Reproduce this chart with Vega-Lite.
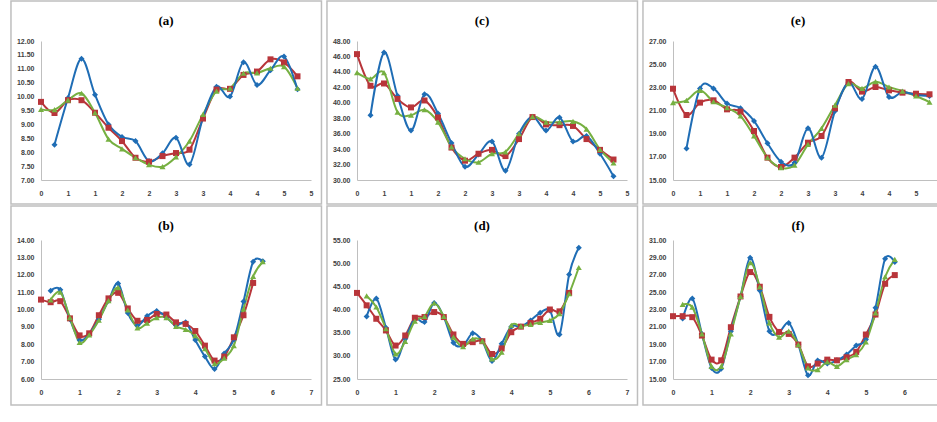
{
  "$schema": "https://vega.github.io/schema/vega-lite/v6.json",
  "background": "white",
  "padding": {"left": 10, "top": 0, "right": 0, "bottom": 0},
  "datasets": {
    "frame": [{"frame": "box"}],
    "d": [
      {"panel":"a","x":0,"DECLUSTERED DATA":null,"KMAF BLOCK MODEL":9.81,"COKRIGING BLOCK MODEL":9.54},
      {"panel":"a","x":0.25,"DECLUSTERED DATA":8.27,"KMAF BLOCK MODEL":9.41,"COKRIGING BLOCK MODEL":9.53},
      {"panel":"a","x":0.5,"DECLUSTERED DATA":9.95,"KMAF BLOCK MODEL":9.87,"COKRIGING BLOCK MODEL":9.87},
      {"panel":"a","x":0.75,"DECLUSTERED DATA":11.36,"KMAF BLOCK MODEL":9.87,"COKRIGING BLOCK MODEL":10.12},
      {"panel":"a","x":1,"DECLUSTERED DATA":10.07,"KMAF BLOCK MODEL":9.42,"COKRIGING BLOCK MODEL":9.42},
      {"panel":"a","x":1.25,"DECLUSTERED DATA":9.0,"KMAF BLOCK MODEL":8.88,"COKRIGING BLOCK MODEL":8.47},
      {"panel":"a","x":1.5,"DECLUSTERED DATA":8.55,"KMAF BLOCK MODEL":8.40,"COKRIGING BLOCK MODEL":8.12},
      {"panel":"a","x":1.75,"DECLUSTERED DATA":8.40,"KMAF BLOCK MODEL":7.80,"COKRIGING BLOCK MODEL":7.80},
      {"panel":"a","x":2,"DECLUSTERED DATA":7.68,"KMAF BLOCK MODEL":7.66,"COKRIGING BLOCK MODEL":7.55},
      {"panel":"a","x":2.25,"DECLUSTERED DATA":7.96,"KMAF BLOCK MODEL":7.86,"COKRIGING BLOCK MODEL":7.48},
      {"panel":"a","x":2.5,"DECLUSTERED DATA":8.52,"KMAF BLOCK MODEL":7.97,"COKRIGING BLOCK MODEL":7.83},
      {"panel":"a","x":2.75,"DECLUSTERED DATA":7.56,"KMAF BLOCK MODEL":8.09,"COKRIGING BLOCK MODEL":8.40},
      {"panel":"a","x":3,"DECLUSTERED DATA":9.24,"KMAF BLOCK MODEL":9.21,"COKRIGING BLOCK MODEL":9.36},
      {"panel":"a","x":3.25,"DECLUSTERED DATA":10.35,"KMAF BLOCK MODEL":10.25,"COKRIGING BLOCK MODEL":10.20},
      {"panel":"a","x":3.5,"DECLUSTERED DATA":10.0,"KMAF BLOCK MODEL":10.28,"COKRIGING BLOCK MODEL":10.30},
      {"panel":"a","x":3.75,"DECLUSTERED DATA":11.24,"KMAF BLOCK MODEL":10.78,"COKRIGING BLOCK MODEL":10.84},
      {"panel":"a","x":4,"DECLUSTERED DATA":10.42,"KMAF BLOCK MODEL":10.90,"COKRIGING BLOCK MODEL":10.85},
      {"panel":"a","x":4.25,"DECLUSTERED DATA":10.95,"KMAF BLOCK MODEL":11.34,"COKRIGING BLOCK MODEL":11.02},
      {"panel":"a","x":4.5,"DECLUSTERED DATA":11.44,"KMAF BLOCK MODEL":11.23,"COKRIGING BLOCK MODEL":11.08},
      {"panel":"a","x":4.75,"DECLUSTERED DATA":10.26,"KMAF BLOCK MODEL":10.73,"COKRIGING BLOCK MODEL":10.30},

      {"panel":"c","x":0,"DECLUSTERED DATA":null,"KMAF BLOCK MODEL":46.3,"COKRIGING BLOCK MODEL":43.9},
      {"panel":"c","x":0.25,"DECLUSTERED DATA":38.4,"KMAF BLOCK MODEL":42.2,"COKRIGING BLOCK MODEL":43.1},
      {"panel":"c","x":0.5,"DECLUSTERED DATA":46.5,"KMAF BLOCK MODEL":42.5,"COKRIGING BLOCK MODEL":43.9},
      {"panel":"c","x":0.75,"DECLUSTERED DATA":40.9,"KMAF BLOCK MODEL":40.5,"COKRIGING BLOCK MODEL":38.8},
      {"panel":"c","x":1,"DECLUSTERED DATA":36.4,"KMAF BLOCK MODEL":39.4,"COKRIGING BLOCK MODEL":38.4},
      {"panel":"c","x":1.25,"DECLUSTERED DATA":41.1,"KMAF BLOCK MODEL":40.3,"COKRIGING BLOCK MODEL":39.1},
      {"panel":"c","x":1.5,"DECLUSTERED DATA":38.6,"KMAF BLOCK MODEL":38.1,"COKRIGING BLOCK MODEL":37.5},
      {"panel":"c","x":1.75,"DECLUSTERED DATA":34.8,"KMAF BLOCK MODEL":34.2,"COKRIGING BLOCK MODEL":34.3},
      {"panel":"c","x":2,"DECLUSTERED DATA":31.7,"KMAF BLOCK MODEL":32.5,"COKRIGING BLOCK MODEL":32.75},
      {"panel":"c","x":2.25,"DECLUSTERED DATA":33.3,"KMAF BLOCK MODEL":33.4,"COKRIGING BLOCK MODEL":32.3},
      {"panel":"c","x":2.5,"DECLUSTERED DATA":35.0,"KMAF BLOCK MODEL":33.9,"COKRIGING BLOCK MODEL":33.4},
      {"panel":"c","x":2.75,"DECLUSTERED DATA":31.2,"KMAF BLOCK MODEL":33.1,"COKRIGING BLOCK MODEL":33.65},
      {"panel":"c","x":3,"DECLUSTERED DATA":36.0,"KMAF BLOCK MODEL":35.3,"COKRIGING BLOCK MODEL":36.0},
      {"panel":"c","x":3.25,"DECLUSTERED DATA":38.2,"KMAF BLOCK MODEL":38.15,"COKRIGING BLOCK MODEL":38.2},
      {"panel":"c","x":3.5,"DECLUSTERED DATA":36.4,"KMAF BLOCK MODEL":37.2,"COKRIGING BLOCK MODEL":37.5},
      {"panel":"c","x":3.75,"DECLUSTERED DATA":38.1,"KMAF BLOCK MODEL":37.1,"COKRIGING BLOCK MODEL":37.5},
      {"panel":"c","x":4,"DECLUSTERED DATA":35.0,"KMAF BLOCK MODEL":37.0,"COKRIGING BLOCK MODEL":37.6},
      {"panel":"c","x":4.25,"DECLUSTERED DATA":35.7,"KMAF BLOCK MODEL":35.3,"COKRIGING BLOCK MODEL":36.6},
      {"panel":"c","x":4.5,"DECLUSTERED DATA":33.4,"KMAF BLOCK MODEL":33.9,"COKRIGING BLOCK MODEL":33.95},
      {"panel":"c","x":4.75,"DECLUSTERED DATA":30.5,"KMAF BLOCK MODEL":32.65,"COKRIGING BLOCK MODEL":32.2},

      {"panel":"e","x":0,"DECLUSTERED DATA":null,"KMAF BLOCK MODEL":22.88,"COKRIGING BLOCK MODEL":21.68},
      {"panel":"e","x":0.25,"DECLUSTERED DATA":17.73,"KMAF BLOCK MODEL":20.61,"COKRIGING BLOCK MODEL":21.88},
      {"panel":"e","x":0.5,"DECLUSTERED DATA":22.9,"KMAF BLOCK MODEL":21.68,"COKRIGING BLOCK MODEL":22.74},
      {"panel":"e","x":0.75,"DECLUSTERED DATA":22.9,"KMAF BLOCK MODEL":21.88,"COKRIGING BLOCK MODEL":21.76},
      {"panel":"e","x":1,"DECLUSTERED DATA":21.6,"KMAF BLOCK MODEL":21.1,"COKRIGING BLOCK MODEL":21.24},
      {"panel":"e","x":1.25,"DECLUSTERED DATA":21.2,"KMAF BLOCK MODEL":20.9,"COKRIGING BLOCK MODEL":20.53},
      {"panel":"e","x":1.5,"DECLUSTERED DATA":20.1,"KMAF BLOCK MODEL":19.23,"COKRIGING BLOCK MODEL":18.8},
      {"panel":"e","x":1.75,"DECLUSTERED DATA":18.17,"KMAF BLOCK MODEL":16.93,"COKRIGING BLOCK MODEL":16.93},
      {"panel":"e","x":2,"DECLUSTERED DATA":16.58,"KMAF BLOCK MODEL":16.12,"COKRIGING BLOCK MODEL":16.06},
      {"panel":"e","x":2.25,"DECLUSTERED DATA":16.5,"KMAF BLOCK MODEL":16.93,"COKRIGING BLOCK MODEL":16.29},
      {"panel":"e","x":2.5,"DECLUSTERED DATA":19.46,"KMAF BLOCK MODEL":18.22,"COKRIGING BLOCK MODEL":18.08},
      {"panel":"e","x":2.75,"DECLUSTERED DATA":16.93,"KMAF BLOCK MODEL":18.8,"COKRIGING BLOCK MODEL":19.46},
      {"panel":"e","x":3,"DECLUSTERED DATA":20.96,"KMAF BLOCK MODEL":21.19,"COKRIGING BLOCK MODEL":21.47},
      {"panel":"e","x":3.25,"DECLUSTERED DATA":23.4,"KMAF BLOCK MODEL":23.46,"COKRIGING BLOCK MODEL":23.32},
      {"panel":"e","x":3.5,"DECLUSTERED DATA":22.0,"KMAF BLOCK MODEL":22.63,"COKRIGING BLOCK MODEL":22.91},
      {"panel":"e","x":3.75,"DECLUSTERED DATA":24.78,"KMAF BLOCK MODEL":23.03,"COKRIGING BLOCK MODEL":23.49},
      {"panel":"e","x":4,"DECLUSTERED DATA":22.17,"KMAF BLOCK MODEL":22.74,"COKRIGING BLOCK MODEL":23.03},
      {"panel":"e","x":4.25,"DECLUSTERED DATA":22.6,"KMAF BLOCK MODEL":22.54,"COKRIGING BLOCK MODEL":22.68},
      {"panel":"e","x":4.5,"DECLUSTERED DATA":22.34,"KMAF BLOCK MODEL":22.45,"COKRIGING BLOCK MODEL":22.25},
      {"panel":"e","x":4.75,"DECLUSTERED DATA":22.25,"KMAF BLOCK MODEL":22.4,"COKRIGING BLOCK MODEL":21.73},

      {"panel":"b","x":0,"DECLUSTERED DATA":null,"KMAF BLOCK MODEL":10.57,"COKRIGING BLOCK MODEL":null},
      {"panel":"b","x":0.25,"DECLUSTERED DATA":11.08,"KMAF BLOCK MODEL":10.42,"COKRIGING BLOCK MODEL":10.55},
      {"panel":"b","x":0.5,"DECLUSTERED DATA":11.14,"KMAF BLOCK MODEL":10.48,"COKRIGING BLOCK MODEL":11.0},
      {"panel":"b","x":0.75,"DECLUSTERED DATA":9.44,"KMAF BLOCK MODEL":9.49,"COKRIGING BLOCK MODEL":9.53},
      {"panel":"b","x":1,"DECLUSTERED DATA":8.24,"KMAF BLOCK MODEL":8.51,"COKRIGING BLOCK MODEL":8.1},
      {"panel":"b","x":1.25,"DECLUSTERED DATA":8.6,"KMAF BLOCK MODEL":8.63,"COKRIGING BLOCK MODEL":8.54},
      {"panel":"b","x":1.5,"DECLUSTERED DATA":9.44,"KMAF BLOCK MODEL":9.67,"COKRIGING BLOCK MODEL":9.38},
      {"panel":"b","x":1.75,"DECLUSTERED DATA":10.51,"KMAF BLOCK MODEL":10.64,"COKRIGING BLOCK MODEL":10.51},
      {"panel":"b","x":2,"DECLUSTERED DATA":11.5,"KMAF BLOCK MODEL":10.96,"COKRIGING BLOCK MODEL":11.26},
      {"panel":"b","x":2.25,"DECLUSTERED DATA":9.8,"KMAF BLOCK MODEL":10.06,"COKRIGING BLOCK MODEL":9.97},
      {"panel":"b","x":2.5,"DECLUSTERED DATA":9.08,"KMAF BLOCK MODEL":9.35,"COKRIGING BLOCK MODEL":8.94},
      {"panel":"b","x":2.75,"DECLUSTERED DATA":9.62,"KMAF BLOCK MODEL":9.4,"COKRIGING BLOCK MODEL":9.21},
      {"panel":"b","x":3,"DECLUSTERED DATA":9.92,"KMAF BLOCK MODEL":9.74,"COKRIGING BLOCK MODEL":9.53},
      {"panel":"b","x":3.25,"DECLUSTERED DATA":9.56,"KMAF BLOCK MODEL":9.71,"COKRIGING BLOCK MODEL":9.53},
      {"panel":"b","x":3.5,"DECLUSTERED DATA":9.08,"KMAF BLOCK MODEL":9.26,"COKRIGING BLOCK MODEL":9.03},
      {"panel":"b","x":3.75,"DECLUSTERED DATA":9.26,"KMAF BLOCK MODEL":9.17,"COKRIGING BLOCK MODEL":8.85},
      {"panel":"b","x":4,"DECLUSTERED DATA":8.24,"KMAF BLOCK MODEL":8.76,"COKRIGING BLOCK MODEL":8.49},
      {"panel":"b","x":4.25,"DECLUSTERED DATA":7.29,"KMAF BLOCK MODEL":7.92,"COKRIGING BLOCK MODEL":7.74},
      {"panel":"b","x":4.5,"DECLUSTERED DATA":6.58,"KMAF BLOCK MODEL":7.06,"COKRIGING BLOCK MODEL":6.88},
      {"panel":"b","x":4.75,"DECLUSTERED DATA":7.47,"KMAF BLOCK MODEL":7.29,"COKRIGING BLOCK MODEL":7.2},
      {"panel":"b","x":5,"DECLUSTERED DATA":8.28,"KMAF BLOCK MODEL":8.4,"COKRIGING BLOCK MODEL":7.92},
      {"panel":"b","x":5.25,"DECLUSTERED DATA":10.46,"KMAF BLOCK MODEL":9.67,"COKRIGING BLOCK MODEL":10.03},
      {"panel":"b","x":5.5,"DECLUSTERED DATA":12.75,"KMAF BLOCK MODEL":11.53,"COKRIGING BLOCK MODEL":11.91},
      {"panel":"b","x":5.75,"DECLUSTERED DATA":12.78,"KMAF BLOCK MODEL":null,"COKRIGING BLOCK MODEL":12.75},

      {"panel":"d","x":0,"DECLUSTERED DATA":null,"KMAF BLOCK MODEL":43.58,"COKRIGING BLOCK MODEL":null},
      {"panel":"d","x":0.25,"DECLUSTERED DATA":38.5,"KMAF BLOCK MODEL":40.9,"COKRIGING BLOCK MODEL":42.92},
      {"panel":"d","x":0.5,"DECLUSTERED DATA":42.35,"KMAF BLOCK MODEL":38.0,"COKRIGING BLOCK MODEL":40.54},
      {"panel":"d","x":0.75,"DECLUSTERED DATA":36.06,"KMAF BLOCK MODEL":35.48,"COKRIGING BLOCK MODEL":35.84},
      {"panel":"d","x":1,"DECLUSTERED DATA":29.19,"KMAF BLOCK MODEL":32.22,"COKRIGING BLOCK MODEL":30.42},
      {"panel":"d","x":1.25,"DECLUSTERED DATA":33.67,"KMAF BLOCK MODEL":34.39,"COKRIGING BLOCK MODEL":33.09},
      {"panel":"d","x":1.5,"DECLUSTERED DATA":38.0,"KMAF BLOCK MODEL":38.22,"COKRIGING BLOCK MODEL":37.5},
      {"panel":"d","x":1.75,"DECLUSTERED DATA":37.28,"KMAF BLOCK MODEL":38.37,"COKRIGING BLOCK MODEL":38.51},
      {"panel":"d","x":2,"DECLUSTERED DATA":41.4,"KMAF BLOCK MODEL":39.45,"COKRIGING BLOCK MODEL":41.4},
      {"panel":"d","x":2.25,"DECLUSTERED DATA":38.37,"KMAF BLOCK MODEL":38.37,"COKRIGING BLOCK MODEL":38.51},
      {"panel":"d","x":2.5,"DECLUSTERED DATA":32.8,"KMAF BLOCK MODEL":34.61,"COKRIGING BLOCK MODEL":34.03},
      {"panel":"d","x":2.75,"DECLUSTERED DATA":32.22,"KMAF BLOCK MODEL":32.58,"COKRIGING BLOCK MODEL":32.0},
      {"panel":"d","x":3,"DECLUSTERED DATA":34.9,"KMAF BLOCK MODEL":32.95,"COKRIGING BLOCK MODEL":33.67},
      {"panel":"d","x":3.25,"DECLUSTERED DATA":33.16,"KMAF BLOCK MODEL":33.16,"COKRIGING BLOCK MODEL":33.16},
      {"panel":"d","x":3.5,"DECLUSTERED DATA":28.9,"KMAF BLOCK MODEL":30.4,"COKRIGING BLOCK MODEL":29.33},
      {"panel":"d","x":3.75,"DECLUSTERED DATA":32.6,"KMAF BLOCK MODEL":31.6,"COKRIGING BLOCK MODEL":30.78},
      {"panel":"d","x":4,"DECLUSTERED DATA":36.3,"KMAF BLOCK MODEL":35.1,"COKRIGING BLOCK MODEL":36.6},
      {"panel":"d","x":4.25,"DECLUSTERED DATA":36.35,"KMAF BLOCK MODEL":36.3,"COKRIGING BLOCK MODEL":36.4},
      {"panel":"d","x":4.5,"DECLUSTERED DATA":37.65,"KMAF BLOCK MODEL":37.1,"COKRIGING BLOCK MODEL":36.8},
      {"panel":"d","x":4.75,"DECLUSTERED DATA":39.3,"KMAF BLOCK MODEL":38.0,"COKRIGING BLOCK MODEL":37.2},
      {"panel":"d","x":5,"DECLUSTERED DATA":39.8,"KMAF BLOCK MODEL":40.0,"COKRIGING BLOCK MODEL":37.65},
      {"panel":"d","x":5.25,"DECLUSTERED DATA":34.6,"KMAF BLOCK MODEL":39.6,"COKRIGING BLOCK MODEL":39.1},
      {"panel":"d","x":5.5,"DECLUSTERED DATA":47.55,"KMAF BLOCK MODEL":43.58,"COKRIGING BLOCK MODEL":43.43},
      {"panel":"d","x":5.75,"DECLUSTERED DATA":53.34,"KMAF BLOCK MODEL":null,"COKRIGING BLOCK MODEL":49.07},

      {"panel":"f","x":0,"DECLUSTERED DATA":null,"KMAF BLOCK MODEL":22.23,"COKRIGING BLOCK MODEL":null},
      {"panel":"f","x":0.25,"DECLUSTERED DATA":21.96,"KMAF BLOCK MODEL":22.23,"COKRIGING BLOCK MODEL":23.58},
      {"panel":"f","x":0.5,"DECLUSTERED DATA":24.27,"KMAF BLOCK MODEL":22.12,"COKRIGING BLOCK MODEL":23.27},
      {"panel":"f","x":0.75,"DECLUSTERED DATA":20.19,"KMAF BLOCK MODEL":20.0,"COKRIGING BLOCK MODEL":20.19},
      {"panel":"f","x":1,"DECLUSTERED DATA":16.27,"KMAF BLOCK MODEL":17.23,"COKRIGING BLOCK MODEL":16.46},
      {"panel":"f","x":1.25,"DECLUSTERED DATA":16.19,"KMAF BLOCK MODEL":17.15,"COKRIGING BLOCK MODEL":16.46},
      {"panel":"f","x":1.5,"DECLUSTERED DATA":20.5,"KMAF BLOCK MODEL":20.96,"COKRIGING BLOCK MODEL":20.19},
      {"panel":"f","x":1.75,"DECLUSTERED DATA":24.5,"KMAF BLOCK MODEL":24.5,"COKRIGING BLOCK MODEL":24.5},
      {"panel":"f","x":2,"DECLUSTERED DATA":28.96,"KMAF BLOCK MODEL":27.31,"COKRIGING BLOCK MODEL":28.38},
      {"panel":"f","x":2.25,"DECLUSTERED DATA":25.19,"KMAF BLOCK MODEL":25.62,"COKRIGING BLOCK MODEL":25.62},
      {"panel":"f","x":2.5,"DECLUSTERED DATA":20.5,"KMAF BLOCK MODEL":22.15,"COKRIGING BLOCK MODEL":21.46},
      {"panel":"f","x":2.75,"DECLUSTERED DATA":20.38,"KMAF BLOCK MODEL":20.42,"COKRIGING BLOCK MODEL":19.81},
      {"panel":"f","x":3,"DECLUSTERED DATA":21.46,"KMAF BLOCK MODEL":20.19,"COKRIGING BLOCK MODEL":20.5},
      {"panel":"f","x":3.25,"DECLUSTERED DATA":18.96,"KMAF BLOCK MODEL":18.96,"COKRIGING BLOCK MODEL":18.96},
      {"panel":"f","x":3.5,"DECLUSTERED DATA":15.42,"KMAF BLOCK MODEL":16.46,"COKRIGING BLOCK MODEL":16.27},
      {"panel":"f","x":3.75,"DECLUSTERED DATA":17.12,"KMAF BLOCK MODEL":16.77,"COKRIGING BLOCK MODEL":16.08},
      {"panel":"f","x":4,"DECLUSTERED DATA":16.77,"KMAF BLOCK MODEL":17.23,"COKRIGING BLOCK MODEL":16.96},
      {"panel":"f","x":4.25,"DECLUSTERED DATA":17.15,"KMAF BLOCK MODEL":17.15,"COKRIGING BLOCK MODEL":16.46},
      {"panel":"f","x":4.5,"DECLUSTERED DATA":17.81,"KMAF BLOCK MODEL":17.5,"COKRIGING BLOCK MODEL":17.23},
      {"panel":"f","x":4.75,"DECLUSTERED DATA":18.85,"KMAF BLOCK MODEL":18.12,"COKRIGING BLOCK MODEL":17.81},
      {"panel":"f","x":5,"DECLUSTERED DATA":19.54,"KMAF BLOCK MODEL":20.12,"COKRIGING BLOCK MODEL":19.27},
      {"panel":"f","x":5.25,"DECLUSTERED DATA":23.19,"KMAF BLOCK MODEL":22.42,"COKRIGING BLOCK MODEL":22.62},
      {"panel":"f","x":5.5,"DECLUSTERED DATA":28.85,"KMAF BLOCK MODEL":25.96,"COKRIGING BLOCK MODEL":26.77},
      {"panel":"f","x":5.75,"DECLUSTERED DATA":28.46,"KMAF BLOCK MODEL":26.96,"COKRIGING BLOCK MODEL":28.77}
    ]
  },
  "spacing": 0,
  "vconcat": [
    {
      "spacing": 3,
      "hconcat": [
        {
          "title": {"text": "(a)"},
          "width": 270, "height": 139,
          "encoding": {
            "x": {"type": "quantitative", "title": null, "scale": {"domain": [0, 5], "domainRaw": {"expr": "[0, 5]"}, "nice": false}, "axis": {"values": [0, 0.5, 1, 1.5, 2, 2.5, 3, 3.5, 4, 4.5, 5], "labelExpr": "'' + round(datum.value)"}},
            "y": {"type": "quantitative", "title": null, "scale": {"domain": [7, 12], "domainRaw": {"expr": "[7, 12]"}, "nice": false, "zero": false}, "axis": {"values": [7, 7.5, 8, 8.5, 9, 9.5, 10, 10.5, 11, 11.5, 12], "format": ".2f"}}
          },
          "layer": [
            {"data": {"name": "frame"}, "mark": {"type": "rect", "fill": "transparent", "stroke": "#BEBEBE", "strokeWidth": 1.5, "clip": false},
             "encoding": {"x": {"datum": -0.556, "type": "quantitative"}, "x2": {"datum": 5.194}, "y": {"datum": 13.439, "type": "quantitative"}, "y2": {"datum": 6.137}}},
            {
              "data": {"name": "d"},
              "transform": [
                {"filter": "datum.panel == 'a'"},
                {"fold": ["DECLUSTERED DATA", "KMAF BLOCK MODEL", "COKRIGING BLOCK MODEL"], "as": ["series", "value"]},
                {"filter": "isValid(datum.value)"}
              ],
              "encoding": {
                "x": {"field": "x", "type": "quantitative"},
                "y": {"field": "value", "type": "quantitative"},
                "color": {
                  "field": "series", "type": "nominal",
                  "scale": {"domain": ["DECLUSTERED DATA", "KMAF BLOCK MODEL", "COKRIGING BLOCK MODEL"], "range": ["#1F6DB5", "#B8353A", "#76B041"]},
                  "legend": {
                    "orient": "none", "legendX": 5, "legendY": 385, "direction": "horizontal", "title": null,
                    "labelFont": "Liberation Serif", "labelFontSize": 10.5, "labelColor": "#000000", "labelOffset": 1,
                    "symbolSize": 256, "columnPadding": 3,
                    "encode": {
                      "symbols": {
                        "update": {
                          "shape": {"signal": "datum.value === 'DECLUSTERED DATA' ? 'M-1,-0.12H1V0.12H-1Z M0,-0.42L0.32,0L0,0.42L-0.32,0Z' : datum.value === 'KMAF BLOCK MODEL' ? 'M-1,-0.12H1V0.12H-1Z M-0.32,-0.32H0.32V0.32H-0.32Z' : 'M-1,-0.12H1V0.12H-1Z M0,-0.38L0.38,0.3H-0.38Z'"},
                          "fill": {"scale": "color", "field": "value"},
                          "strokeWidth": {"value": 0},
                          "opacity": {"value": 1}
                        }
                      }
                    }
                  }
                }
              },
              "layer": [
                {"mark": {"type": "line", "interpolate": "cardinal", "strokeWidth": 2}},
                {"mark": {"type": "point", "filled": true, "size": 36, "opacity": 1},
                 "encoding": {"shape": {"field": "series", "type": "nominal", "scale": {"domain": ["DECLUSTERED DATA", "KMAF BLOCK MODEL", "COKRIGING BLOCK MODEL"], "range": ["diamond", "square", "triangle-up"]}, "legend": null}}}
              ]
            }
          ]
        },
        {
          "title": {"text": "(c)"},
          "width": 270, "height": 139,
          "encoding": {
            "x": {"type": "quantitative", "title": null, "scale": {"domain": [0, 5], "domainRaw": {"expr": "[0, 5]"}, "nice": false}, "axis": {"values": [0, 0.5, 1, 1.5, 2, 2.5, 3, 3.5, 4, 4.5, 5], "labelExpr": "'' + round(datum.value)"}},
            "y": {"type": "quantitative", "title": null, "scale": {"domain": [30, 48], "domainRaw": {"expr": "[30, 48]"}, "nice": false, "zero": false}, "axis": {"values": [30, 32, 34, 36, 38, 40, 42, 44, 46, 48], "format": ".2f"}}
          },
          "layer": [
            {"data": {"name": "frame"}, "mark": {"type": "rect", "fill": "transparent", "stroke": "#BEBEBE", "strokeWidth": 1.5, "clip": false},
             "encoding": {"x": {"datum": -0.556, "type": "quantitative"}, "x2": {"datum": 5.194}, "y": {"datum": 53.18, "type": "quantitative"}, "y2": {"datum": 26.892}}},
            {
              "data": {"name": "d"},
              "transform": [
                {"filter": "datum.panel == 'c'"},
                {"fold": ["DECLUSTERED DATA", "KMAF BLOCK MODEL", "COKRIGING BLOCK MODEL"], "as": ["series", "value"]},
                {"filter": "isValid(datum.value)"}
              ],
              "encoding": {
                "x": {"field": "x", "type": "quantitative"},
                "y": {"field": "value", "type": "quantitative"},
                "color": {"field": "series", "type": "nominal", "scale": {"domain": ["DECLUSTERED DATA", "KMAF BLOCK MODEL", "COKRIGING BLOCK MODEL"], "range": ["#1F6DB5", "#B8353A", "#76B041"]}}
              },
              "layer": [
                {"mark": {"type": "line", "interpolate": "cardinal", "strokeWidth": 2}},
                {"mark": {"type": "point", "filled": true, "size": 36, "opacity": 1},
                 "encoding": {"shape": {"field": "series", "type": "nominal", "scale": {"domain": ["DECLUSTERED DATA", "KMAF BLOCK MODEL", "COKRIGING BLOCK MODEL"], "range": ["diamond", "square", "triangle-up"]}, "legend": null}}}
              ]
            }
          ]
        },
        {
          "title": {"text": "(e)"},
          "width": 270, "height": 139,
          "encoding": {
            "x": {"type": "quantitative", "title": null, "scale": {"domain": [0, 5], "domainRaw": {"expr": "[0, 5]"}, "nice": false}, "axis": {"values": [0, 0.5, 1, 1.5, 2, 2.5, 3, 3.5, 4, 4.5, 5], "labelExpr": "'' + round(datum.value)"}},
            "y": {"type": "quantitative", "title": null, "scale": {"domain": [15, 27], "domainRaw": {"expr": "[15, 27]"}, "nice": false, "zero": false}, "axis": {"values": [15, 17, 19, 21, 23, 25, 27], "format": ".2f"}}
          },
          "layer": [
            {"data": {"name": "frame"}, "mark": {"type": "rect", "fill": "transparent", "stroke": "#BEBEBE", "strokeWidth": 1.5, "clip": false},
             "encoding": {"x": {"datum": -0.556, "type": "quantitative"}, "x2": {"datum": 5.194}, "y": {"datum": 30.453, "type": "quantitative"}, "y2": {"datum": 12.928}}},
            {
              "data": {"name": "d"},
              "transform": [
                {"filter": "datum.panel == 'e'"},
                {"fold": ["DECLUSTERED DATA", "KMAF BLOCK MODEL", "COKRIGING BLOCK MODEL"], "as": ["series", "value"]},
                {"filter": "isValid(datum.value)"}
              ],
              "encoding": {
                "x": {"field": "x", "type": "quantitative"},
                "y": {"field": "value", "type": "quantitative"},
                "color": {"field": "series", "type": "nominal", "scale": {"domain": ["DECLUSTERED DATA", "KMAF BLOCK MODEL", "COKRIGING BLOCK MODEL"], "range": ["#1F6DB5", "#B8353A", "#76B041"]}}
              },
              "layer": [
                {"mark": {"type": "line", "interpolate": "cardinal", "strokeWidth": 2}},
                {"mark": {"type": "point", "filled": true, "size": 36, "opacity": 1},
                 "encoding": {"shape": {"field": "series", "type": "nominal", "scale": {"domain": ["DECLUSTERED DATA", "KMAF BLOCK MODEL", "COKRIGING BLOCK MODEL"], "range": ["diamond", "square", "triangle-up"]}, "legend": null}}}
              ]
            }
          ]
        }
      ]
    },
    {
      "spacing": 3,
      "hconcat": [
        {
          "title": {"text": "(b)"},
          "width": 270, "height": 139,
          "encoding": {
            "x": {"type": "quantitative", "title": null, "scale": {"domain": [0, 7], "domainRaw": {"expr": "[0, 7]"}, "nice": false}, "axis": {"values": [0, 1, 2, 3, 4, 5, 6, 7], "labelExpr": "'' + round(datum.value)"}},
            "y": {"type": "quantitative", "title": null, "scale": {"domain": [6, 14], "domainRaw": {"expr": "[6, 14]"}, "nice": false, "zero": false}, "axis": {"values": [6, 7, 8, 9, 10, 11, 12, 13, 14], "format": ".2f"}}
          },
          "layer": [
            {"data": {"name": "frame"}, "mark": {"type": "rect", "fill": "transparent", "stroke": "#BEBEBE", "strokeWidth": 1.5, "clip": false},
             "encoding": {"x": {"datum": -0.778, "type": "quantitative"}, "x2": {"datum": 7.272}, "y": {"datum": 15.957, "type": "quantitative"}, "y2": {"datum": 4.504}}},
            {
              "data": {"name": "d"},
              "transform": [
                {"filter": "datum.panel == 'b'"},
                {"fold": ["DECLUSTERED DATA", "KMAF BLOCK MODEL", "COKRIGING BLOCK MODEL"], "as": ["series", "value"]},
                {"filter": "isValid(datum.value)"}
              ],
              "encoding": {
                "x": {"field": "x", "type": "quantitative"},
                "y": {"field": "value", "type": "quantitative"},
                "color": {"field": "series", "type": "nominal", "scale": {"domain": ["DECLUSTERED DATA", "KMAF BLOCK MODEL", "COKRIGING BLOCK MODEL"], "range": ["#1F6DB5", "#B8353A", "#76B041"]}}
              },
              "layer": [
                {"mark": {"type": "line", "interpolate": "cardinal", "strokeWidth": 2}},
                {"mark": {"type": "point", "filled": true, "size": 36, "opacity": 1},
                 "encoding": {"shape": {"field": "series", "type": "nominal", "scale": {"domain": ["DECLUSTERED DATA", "KMAF BLOCK MODEL", "COKRIGING BLOCK MODEL"], "range": ["diamond", "square", "triangle-up"]}, "legend": null}}}
              ]
            }
          ]
        },
        {
          "title": {"text": "(d)"},
          "width": 270, "height": 139,
          "encoding": {
            "x": {"type": "quantitative", "title": null, "scale": {"domain": [0, 7], "domainRaw": {"expr": "[0, 7]"}, "nice": false}, "axis": {"values": [0, 1, 2, 3, 4, 5, 6, 7], "labelExpr": "'' + round(datum.value)"}},
            "y": {"type": "quantitative", "title": null, "scale": {"domain": [25, 55], "domainRaw": {"expr": "[25, 55]"}, "nice": false, "zero": false}, "axis": {"values": [25, 30, 35, 40, 45, 50, 55], "format": ".2f"}}
          },
          "layer": [
            {"data": {"name": "frame"}, "mark": {"type": "rect", "fill": "transparent", "stroke": "#BEBEBE", "strokeWidth": 1.5, "clip": false},
             "encoding": {"x": {"datum": -0.778, "type": "quantitative"}, "x2": {"datum": 7.272}, "y": {"datum": 62.338, "type": "quantitative"}, "y2": {"datum": 19.388}}},
            {
              "data": {"name": "d"},
              "transform": [
                {"filter": "datum.panel == 'd'"},
                {"fold": ["DECLUSTERED DATA", "KMAF BLOCK MODEL", "COKRIGING BLOCK MODEL"], "as": ["series", "value"]},
                {"filter": "isValid(datum.value)"}
              ],
              "encoding": {
                "x": {"field": "x", "type": "quantitative"},
                "y": {"field": "value", "type": "quantitative"},
                "color": {"field": "series", "type": "nominal", "scale": {"domain": ["DECLUSTERED DATA", "KMAF BLOCK MODEL", "COKRIGING BLOCK MODEL"], "range": ["#1F6DB5", "#B8353A", "#76B041"]}}
              },
              "layer": [
                {"mark": {"type": "line", "interpolate": "cardinal", "strokeWidth": 2}},
                {"mark": {"type": "point", "filled": true, "size": 36, "opacity": 1},
                 "encoding": {"shape": {"field": "series", "type": "nominal", "scale": {"domain": ["DECLUSTERED DATA", "KMAF BLOCK MODEL", "COKRIGING BLOCK MODEL"], "range": ["diamond", "square", "triangle-up"]}, "legend": null}}}
              ]
            }
          ]
        },
        {
          "title": {"text": "(f)"},
          "width": 270, "height": 139,
          "encoding": {
            "x": {"type": "quantitative", "title": null, "scale": {"domain": [0, 7], "domainRaw": {"expr": "[0, 7]"}, "nice": false}, "axis": {"values": [0, 1, 2, 3, 4, 5, 6, 7], "labelExpr": "'' + round(datum.value)"}},
            "y": {"type": "quantitative", "title": null, "scale": {"domain": [15, 31], "domainRaw": {"expr": "[15, 31]"}, "nice": false, "zero": false}, "axis": {"values": [15, 17, 19, 21, 23, 25, 27, 29, 31], "format": ".2f"}}
          },
          "layer": [
            {"data": {"name": "frame"}, "mark": {"type": "rect", "fill": "transparent", "stroke": "#BEBEBE", "strokeWidth": 1.5, "clip": false},
             "encoding": {"x": {"datum": -0.778, "type": "quantitative"}, "x2": {"datum": 7.272}, "y": {"datum": 34.914, "type": "quantitative"}, "y2": {"datum": 12.007}}},
            {
              "data": {"name": "d"},
              "transform": [
                {"filter": "datum.panel == 'f'"},
                {"fold": ["DECLUSTERED DATA", "KMAF BLOCK MODEL", "COKRIGING BLOCK MODEL"], "as": ["series", "value"]},
                {"filter": "isValid(datum.value)"}
              ],
              "encoding": {
                "x": {"field": "x", "type": "quantitative"},
                "y": {"field": "value", "type": "quantitative"},
                "color": {"field": "series", "type": "nominal", "scale": {"domain": ["DECLUSTERED DATA", "KMAF BLOCK MODEL", "COKRIGING BLOCK MODEL"], "range": ["#1F6DB5", "#B8353A", "#76B041"]}}
              },
              "layer": [
                {"mark": {"type": "line", "interpolate": "cardinal", "strokeWidth": 2}},
                {"mark": {"type": "point", "filled": true, "size": 36, "opacity": 1},
                 "encoding": {"shape": {"field": "series", "type": "nominal", "scale": {"domain": ["DECLUSTERED DATA", "KMAF BLOCK MODEL", "COKRIGING BLOCK MODEL"], "range": ["diamond", "square", "triangle-up"]}, "legend": null}}}
              ]
            }
          ]
        }
      ]
    }
  ],
  "config": {
    "view": {"stroke": null},
    "axis": {"grid": false, "ticks": false, "domainColor": "#BFBFBF", "domainWidth": 1, "labelFont": "Liberation Sans", "labelFontSize": 7, "labelColor": "#404040", "labelFontWeight": "bold", "labelOverlap": false},
    "axisY": {"minExtent": 30, "maxExtent": 30, "labelPadding": 7},
    "axisX": {"minExtent": 20, "maxExtent": 20, "labelPadding": 9, "labelFlush": false},
    "title": {"font": "Liberation Serif", "fontSize": 13, "fontWeight": "bold", "color": "#000000", "offset": -28, "dx": -10, "anchor": "middle", "frame": "group"}
  }
}
